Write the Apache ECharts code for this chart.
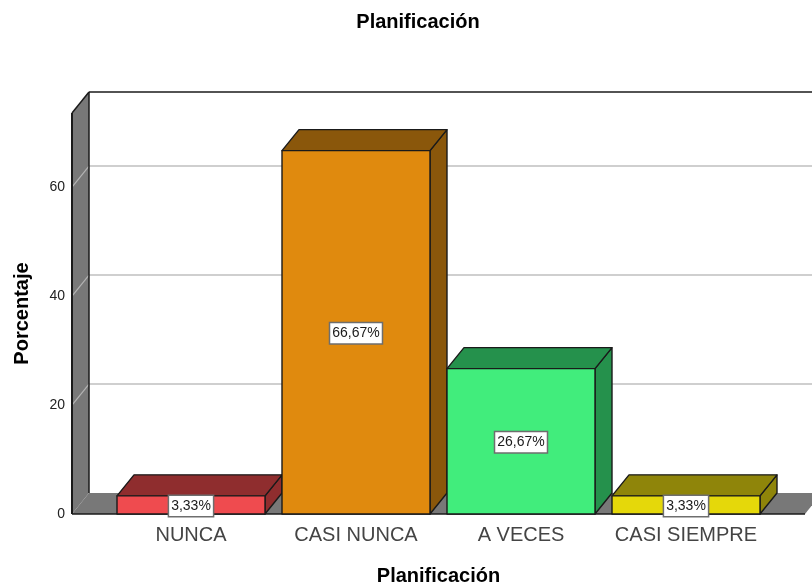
<!DOCTYPE html>
<html>
<head>
<meta charset="utf-8">
<style>html,body{margin:0;padding:0;background:#fff}#chart{width:812px;height:587px}</style>
<script src="https://cdn.jsdelivr.net/npm/echarts@6/dist/echarts.min.js"></script>
</head>
<body>
<div id="chart"></div>
<script>
// Percentage of responses per answer category
const categories = ['NUNCA', 'CASI NUNCA', 'A VECES', 'CASI SIEMPRE'];
const percentages = [3.33, 66.67, 26.67, 3.33];
const yTicks = [0, 20, 40, 60];
const frontColors = ['#EF4B4F', '#E08A0E', '#41ED7C', '#E5D80A'];
const shadeColors = ['#8F2D2E', '#8A570B', '#25914C', '#8F850A'];

// Pseudo-3D extrusion and layout constants, in pixels
const DEPTH_X = 17;
const DEPTH_Y = 21;
const BAR_WIDTH = 148;
const FRAME_OVERHANG = 36.5;
const INK = '#1a1a1a';

const poly = (points, fill, z2, stroke) => ({
  type: 'polygon',
  z2,
  shape: { points },
  style: { fill, stroke: stroke === undefined ? INK : stroke, lineWidth: 1.4, lineJoin: 'round' }
});
const line = (x1, y1, x2, y2, stroke, lineWidth, z2) => ({
  type: 'line',
  z2,
  shape: { x1, y1, x2, y2 },
  style: { stroke, lineWidth }
});

// Walls, floor and grid lines of the box behind the bars
function renderFrame(params, api) {
  const cs = params.coordSys;
  const left = cs.x - FRAME_OVERHANG;
  const right = cs.x + cs.width + FRAME_OVERHANG;
  const bottom = cs.y + cs.height;
  const top = cs.y;
  const children = [
    poly([[left, bottom], [left + DEPTH_X, bottom - DEPTH_Y], [left + DEPTH_X, top - DEPTH_Y], [left, top]], '#787878', 2, null),
    poly([[left, bottom], [left + DEPTH_X, bottom - DEPTH_Y], [right + DEPTH_X, bottom - DEPTH_Y], [right, bottom]], '#787878', 2, null)
  ];
  yTicks.filter(t => t > 0).forEach(t => {
    const y = api.coord([0, t])[1];
    children.push(line(left, y, left + DEPTH_X, y - DEPTH_Y, '#b4b4b4', 1.2, 3));
    children.push(line(left + DEPTH_X, y - DEPTH_Y, right + DEPTH_X, y - DEPTH_Y, '#cfcfcf', 2, 3));
  });
  children.push(line(left, bottom, right, bottom, INK, 1.5, 4));
  children.push(line(left, bottom, left, top, INK, 2, 4));
  children.push(line(left, top, left + DEPTH_X, top - DEPTH_Y, INK, 1.5, 4));
  children.push(line(left + DEPTH_X, bottom - DEPTH_Y, left + DEPTH_X, top - DEPTH_Y, INK, 1.5, 4));
  children.push(line(left + DEPTH_X, top - DEPTH_Y, right + DEPTH_X, top - DEPTH_Y, INK, 1.5, 4));
  return { type: 'group', children };
}

// One extruded bar: front, top and side faces
function renderBar(params, api) {
  const i = api.value(0);
  const value = api.value(1);
  const [cx, yTop] = api.coord([i, value]);
  const yBase = api.coord([i, 0])[1];
  const x0 = cx - BAR_WIDTH / 2;
  const x1 = cx + BAR_WIDTH / 2;
  const front = frontColors[i];
  const shade = shadeColors[i];
  return {
    type: 'group',
    children: [
      poly([[x1, yBase], [x1 + DEPTH_X, yBase - DEPTH_Y], [x1 + DEPTH_X, yTop - DEPTH_Y], [x1, yTop]], shade, 10),
      poly([[x0, yTop], [x0 + DEPTH_X, yTop - DEPTH_Y], [x1 + DEPTH_X, yTop - DEPTH_Y], [x1, yTop]], shade, 10),
      poly([[x0, yBase], [x0, yTop], [x1, yTop], [x1, yBase]], front, 11)
    ]
  };
}

// Value tag centred on the bar's front face, painted above every bar
function renderTag(params, api) {
  const i = api.value(0);
  const value = api.value(1);
  const [cx, yTop] = api.coord([i, value]);
  const yBase = api.coord([i, 0])[1];
  return {
    type: 'text',
    z2: 30,
    x: cx,
    y: (yTop + yBase) / 2 + 1,
    style: {
      text: value.toFixed(2).replace('.', ',') + '%',
      font: '14px "Liberation Sans", Arial, sans-serif',
      fill: '#1a1a1a',
      align: 'center',
      verticalAlign: 'middle',
      backgroundColor: '#ffffff',
      borderColor: '#6e6e6e',
      borderWidth: 1.5,
      padding: [3, 2, 3, 2]
    }
  };
}

const barData = percentages.map((v, i) => [i, v]);
const chart = echarts.init(document.getElementById('chart'), null, { renderer: 'canvas' });
chart.setOption({
  animation: false,
  backgroundColor: '#ffffff',
  textStyle: { fontFamily: '"Liberation Sans", Arial, sans-serif' },
  title: {
    text: 'Planificación',
    left: 413,
    top: 7,
    textAlign: 'center',
    textStyle: { fontSize: 20, fontWeight: 'bold', color: '#000', fontFamily: '"Liberation Sans", Arial, sans-serif' }
  },
  grid: { left: 108.5, width: 660, top: 113, height: 401, outerBoundsMode: 'none' },
  xAxis: {
    type: 'category',
    data: categories,
    axisLine: { show: false },
    axisTick: { show: false },
    axisLabel: { fontSize: 20, color: '#444', margin: 11, interval: 0 },
    name: 'Planificación',
    nameLocation: 'middle',
    nameGap: 52,
    nameTextStyle: { fontSize: 20, fontWeight: 'bold', color: '#000' }
  },
  yAxis: {
    type: 'value',
    min: 0,
    max: 73.58,
    interval: 20,
    offset: FRAME_OVERHANG,
    axisLine: { show: false },
    axisTick: { show: false },
    splitLine: { show: false },
    axisLabel: { fontSize: 14, color: '#222', margin: 7, showMaxLabel: false },
    name: 'Porcentaje',
    nameLocation: 'middle',
    nameGap: 40,
    nameRotate: 90,
    nameTextStyle: { fontSize: 20, fontWeight: 'bold', color: '#000' }
  },
  series: [
    { type: 'custom', name: 'marco', silent: true, clip: false, z: 1, renderItem: renderFrame, data: [[0, 0]], encode: { x: 0, y: 1 } },
    { type: 'custom', name: 'Porcentaje', silent: true, clip: false, z: 2, renderItem: renderBar, data: barData, encode: { x: 0, y: 1 } },
    { type: 'custom', name: 'etiquetas', silent: true, clip: false, z: 3, renderItem: renderTag, data: barData, encode: { x: 0, y: 1 } }
  ]
});
</script>
</body>
</html>
